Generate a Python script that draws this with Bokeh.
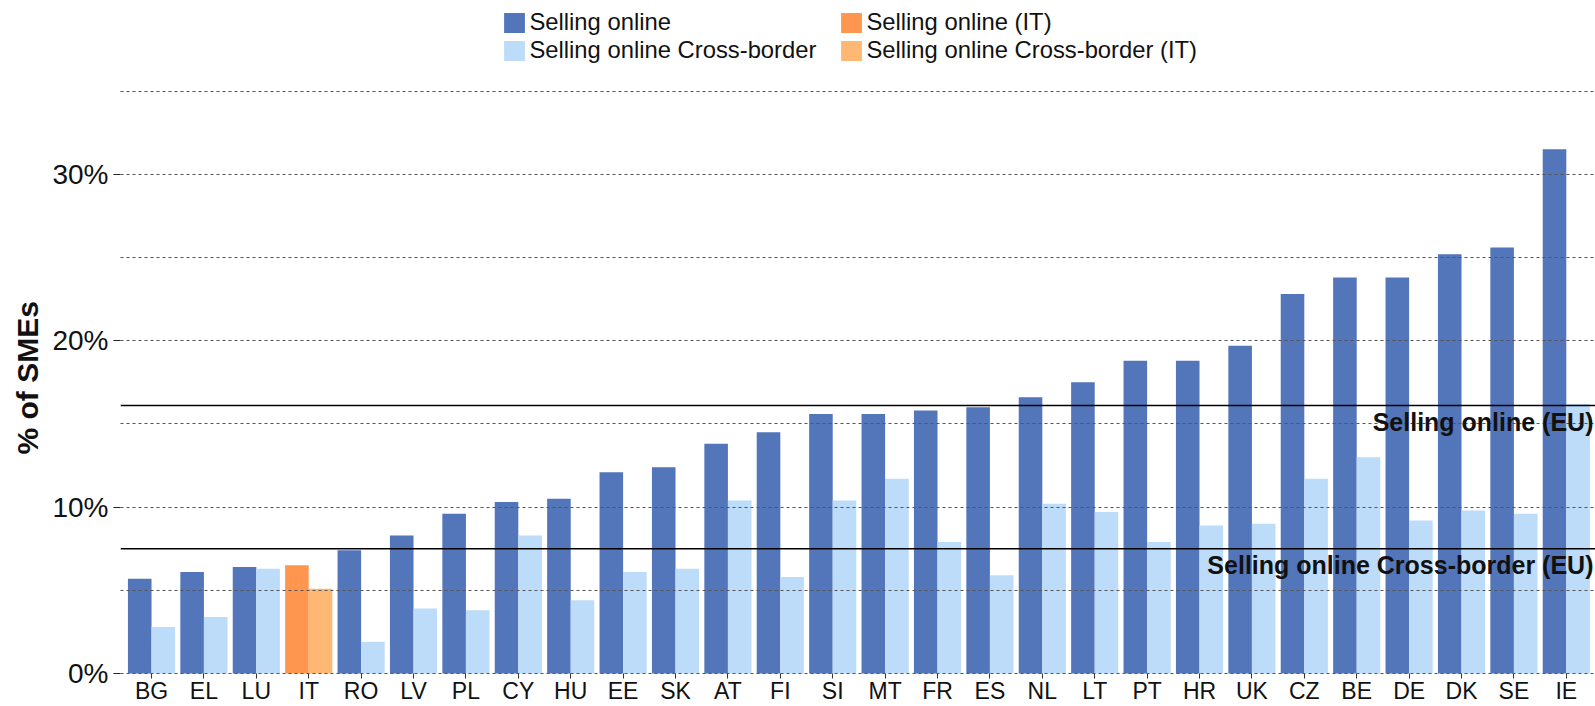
from bokeh.plotting import figure
from bokeh.models import (Range1d, FixedTicker, PrintfTickFormatter, Span, Label, Title,
                          Legend, LegendItem, ColumnDataSource)
from bokeh.transform import dodge
from bokeh.embed import file_html
from bokeh.resources import INLINE

# ---------------- data ----------------
countries = ["BG", "EL", "LU", "IT", "RO", "LV", "PL", "CY", "HU", "EE", "SK", "AT", "FI", "SI",
             "MT", "FR", "ES", "NL", "LT", "PT", "HR", "UK", "CZ", "BE", "DE", "DK", "SE", "IE"]
selling_online = [5.7, 6.1, 6.4, 6.5, 7.4, 8.3, 9.6, 10.3, 10.5, 12.1, 12.4, 13.8, 14.5, 15.6,
                  15.6, 15.8, 16.0, 16.6, 17.5, 18.8, 18.8, 19.7, 22.8, 23.8, 23.8, 25.2, 25.6, 31.5]
selling_cross_border = [2.8, 3.4, 6.3, 5.1, 1.9, 3.9, 3.8, 8.3, 4.4, 6.1, 6.3, 10.4, 5.8, 10.4,
                        11.7, 7.9, 5.9, 10.2, 9.7, 7.9, 8.9, 9.0, 11.7, 13.0, 9.2, 9.8, 9.6, 16.2]
eu_selling_online = 16.1
eu_selling_cross_border = 7.5
highlight = "IT"
y_ticks = [0, 10, 20, 30]
y_minor = [5, 15, 25, 35]
series_labels = ["Selling online", "Selling online Cross-border",
                 "Selling online (IT)", "Selling online Cross-border (IT)"]
eu_labels = ["Selling online (EU)", "Selling online Cross-border (EU)"]
y_title = "% of SMEs"

# ---------------- styles ----------------
FONT = "Liberation Sans"
DARK_BLUE = "#5375B9"
LIGHT_BLUE = "#BDDCFA"
DARK_ORANGE = "#FF9650"
LIGHT_ORANGE = "#FFB873"
GRID = "#555555"

idx = list(range(len(countries)))
src = ColumnDataSource(dict(
    x=idx,
    online=selling_online,
    cross=selling_cross_border,
    c_online=[DARK_ORANGE if c == highlight else DARK_BLUE for c in countries],
    c_cross=[LIGHT_ORANGE if c == highlight else LIGHT_BLUE for c in countries],
))

# the plot area covers the whole figure height: the legend sits inside it at the
# top, and the category axis is pinned to y = 0 with its labels below it
p = figure(width=1595, height=706, output_backend="svg", toolbar_location=None,
           x_range=Range1d(-0.592, 27.557), y_range=Range1d(-1.983, 40.445),
           min_border_left=120, min_border_right=0, min_border_top=0, min_border_bottom=0)
p.outline_line_color = None
p.background_fill_color = "white"
p.border_fill_color = "white"

r1 = p.vbar(x=dodge("x", -0.225), top="online", width=0.45, source=src,
            fill_color="c_online", line_color=None)
r2 = p.vbar(x=dodge("x", 0.225), top="cross", width=0.45, source=src,
            fill_color="c_cross", line_color=None)

# grid (drawn over bars)
p.xgrid.visible = False
p.ygrid.ticker = FixedTicker(ticks=y_ticks, minor_ticks=y_minor)
p.ygrid.grid_line_color = GRID
p.ygrid.grid_line_dash = "3 3"
p.ygrid.grid_line_width = 1
p.ygrid.minor_grid_line_color = GRID
p.ygrid.minor_grid_line_dash = "3 3"
p.ygrid.minor_grid_line_width = 1
p.ygrid.level = "annotation"

# y axis
yax = p.yaxis[0]
yax.ticker = FixedTicker(ticks=y_ticks)
yax.formatter = PrintfTickFormatter(format="%d%%")
yax.axis_line_color = None
yax.major_tick_out = 7
yax.major_tick_in = 0
yax.minor_tick_out = 0
yax.minor_tick_in = 0
yax.major_tick_line_color = "#222222"
yax.major_label_text_font = FONT
yax.major_label_text_font_size = "28px"
yax.major_label_text_color = "#111111"
yax.major_label_standoff = 5

# y title (left panel, shifted to sit beside the 0-35% region)
p.add_layout(Title(text=y_title, align="left", offset=252, standoff=12,
                   text_font=FONT, text_font_style="bold", text_font_size="30px",
                   text_color="#111111"), "left")

# x axis pinned at 0
xax = p.xaxis[0]
xax.fixed_location = 0
xax.ticker = FixedTicker(ticks=idx)
xax.major_label_overrides = {i: c for i, c in zip(idx, countries)}
xax.axis_line_color = None
xax.major_tick_out = 5
xax.major_tick_in = 0
xax.minor_tick_out = 0
xax.minor_tick_in = 0
xax.major_tick_line_color = "#333333"
xax.major_label_text_font = FONT
xax.major_label_text_font_size = "23px"
xax.major_label_text_color = "#111111"
xax.major_label_standoff = -1

# EU reference lines and labels
for val, lab, dy in zip([eu_selling_online, eu_selling_cross_border], eu_labels, [-16, -16]):
    p.add_layout(Span(location=val, dimension="width", line_color="black", line_width=1.5))
    p.add_layout(Label(x=p.x_range.end, y=val, text=lab, text_align="right",
                       text_baseline="alphabetic", x_offset=-2, y_offset=dy,
                       text_font=FONT, text_font_style="bold", text_font_size="25px",
                       text_color="#111111"))

# legend: two single-column legends at the top
it_i = countries.index(highlight)
legend_items = [
    [LegendItem(label=series_labels[0], renderers=[r1], index=0),
     LegendItem(label=series_labels[1], renderers=[r2], index=0)],
    [LegendItem(label=series_labels[2], renderers=[r1], index=it_i),
     LegendItem(label=series_labels[3], renderers=[r2], index=it_i)],
]
for items, lx in zip(legend_items, [381.4, 718.4]):
    leg = Legend(items=items, location=(lx, 642), orientation="vertical",
                 glyph_width=26, glyph_height=25, label_standoff=2, spacing=0,
                 padding=0, margin=0, border_line_color=None, background_fill_alpha=0,
                 label_text_font=FONT, label_text_font_size="23.8px",
                 label_text_color="#111111", label_height=20)
    p.add_layout(leg)

open("out.html", "w").write(file_html(p, INLINE))
